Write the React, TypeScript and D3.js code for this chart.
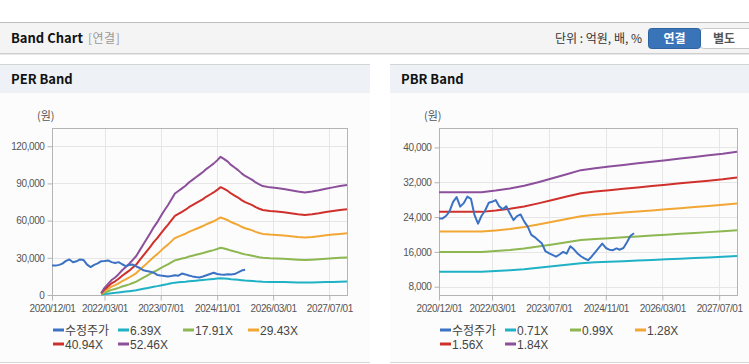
import React, { useEffect, useRef } from "react";
import * as d3 from "d3";

// x ticks shared by both panels
const xTickLabels = ["2020/12/01", "2022/03/01", "2023/07/01", "2024/11/01", "2026/03/01", "2027/07/01"];

// adjusted close (수정주가), monthly
const priceDates = [
  "2020-12", "2021-01", "2021-02", "2021-03", "2021-04", "2021-05", "2021-06", "2021-07", "2021-08", "2021-09",
  "2021-10", "2021-11", "2021-12", "2022-01", "2022-02", "2022-03", "2022-04", "2022-05", "2022-06", "2022-07",
  "2022-08", "2022-09", "2022-10", "2022-11", "2022-12", "2023-01", "2023-02", "2023-03", "2023-04", "2023-05",
  "2023-06", "2023-07", "2023-08", "2023-09", "2023-10", "2023-11", "2023-12", "2024-01", "2024-02", "2024-03",
  "2024-04", "2024-05", "2024-06", "2024-07", "2024-08", "2024-09", "2024-10", "2024-11", "2024-12", "2025-01",
  "2025-02", "2025-03", "2025-04", "2025-05", "2025-06", "2025-07",
];
const priceValues = [
  23700, 23700, 24300, 25300, 27500, 28600, 26400, 27200, 28700, 28200,
  24500, 22500, 24300, 25500, 27300, 27500, 27900, 26500, 25800, 26500,
  24800, 23300, 24200, 24600, 23000, 21800, 19900, 19400, 18700, 18000,
  16200, 15700, 15300, 14900, 15400, 16000, 15600, 17300, 16600, 15700,
  15000, 14500, 14100, 14900, 15900, 16900, 17900, 16900, 16500, 16400,
  16800, 16500, 16900, 18200, 19700, 20300,
];

// EPS path used by PER band
const epsDates = [
  "2022-02", "2022-03", "2022-04", "2022-05", "2022-06", "2022-07", "2022-08", "2022-09", "2022-10", "2022-11",
  "2022-12", "2023-01", "2023-02", "2023-03", "2023-04", "2023-05", "2023-06", "2023-07", "2023-08", "2023-09",
  "2023-10", "2023-11", "2023-12", "2024-01", "2024-02", "2024-03", "2024-04", "2024-05", "2024-06", "2024-07",
  "2024-08", "2024-09", "2024-10", "2024-11", "2024-12", "2025-01", "2025-02", "2025-03", "2025-04", "2025-05",
  "2025-06", "2025-07", "2025-08", "2025-09", "2025-10", "2025-11", "2025-12", "2026-02", "2026-04", "2026-06",
  "2026-08", "2026-10", "2026-12", "2027-02", "2027-04", "2027-06", "2027-08", "2027-10", "2027-12",
];
const epsValues = [
  30, 110, 170, 230, 270, 320, 380, 430, 480, 540,
  600, 690, 780, 860, 950, 1040, 1120, 1210, 1300, 1380,
  1470, 1560, 1600, 1640, 1680, 1730, 1770, 1810, 1850, 1890,
  1940, 1980, 2020, 2070, 2125, 2090, 2050, 2000, 1960, 1920,
  1870, 1830, 1800, 1770, 1730, 1700, 1675, 1655, 1645, 1630,
  1610, 1590, 1575, 1590, 1610, 1635, 1655, 1675, 1690,
];
const perMultiples = [6.39, 17.91, 29.43, 40.94, 52.46];

// BPS path used by PBR band
const bpsDates = [
  "2020-12", "2021-12", "2022-04", "2022-08", "2022-12", "2023-04", "2023-08", "2023-12", "2024-04", "2024-08",
  "2024-12", "2025-04", "2025-08", "2025-12", "2026-04", "2026-08", "2026-12", "2027-04", "2027-08", "2027-12",
];
const bpsValues = [
  16150, 16150, 16350, 16600, 16950, 17400, 17900, 18400, 18900, 19150,
  19350, 19550, 19750, 19950, 20150, 20350, 20550, 20750, 20950, 21200,
];
const pbrMultiples = [0.71, 0.99, 1.28, 1.56, 1.84];

const perTicks = [0, 30000, 60000, 90000, 120000];
const pbrTicks = [8000, 16000, 24000, 32000, 40000];

const priceColor = "#3b72c4";
const bandColors = ["#1fb1c6", "#8cb751", "#f2a735", "#d0302c", "#8c4f9b"];
const fontKo = "'Noto Sans CJK KR', 'Noto Sans', sans-serif";
const fontTick = "'Liberation Sans', Arial, 'Noto Sans CJK KR', sans-serif";

const parse = d3.timeParse("%Y-%m");
const parseTick = d3.timeParse("%Y/%m/%d");

type Pt = { date: Date; value: number };

function drawPanel(
  root: d3.Selection<SVGGElement, unknown, null, undefined>,
  opts: {
    x0: number; w: number; title: string; left: number; right: number; top: number; bottom: number;
    yDomain: [number, number]; yTicks: number[]; base: Pt[]; multiples: number[];
  }
) {
  const g = root.append("g");
  // panel background + header
  g.append("rect").attr("x", opts.x0).attr("y", 64).attr("width", opts.w).attr("height", 298).attr("fill", "#fcfcfc");
  g.append("rect").attr("x", opts.x0).attr("y", 64).attr("width", opts.w).attr("height", 29).attr("fill", "#eef2f7");
  g.append("line").attr("x1", opts.x0).attr("x2", opts.x0 + opts.w).attr("y1", 64.5).attr("y2", 64.5).attr("stroke", "#d4d4d4");
  g.append("line").attr("x1", opts.x0).attr("x2", opts.x0 + opts.w).attr("y1", 362.5).attr("y2", 362.5).attr("stroke", "#d8d8d8");
  g.append("text").attr("x", opts.x0 + 11).attr("y", 84).attr("font-family", fontKo).attr("font-weight", "bold")
    .attr("font-size", 13).attr("fill", "#111").text(opts.title);

  const x = d3.scaleTime().domain([new Date(2020, 11, 1), new Date(2027, 11, 1)]).range([opts.left, opts.right]);
  const y = d3.scaleLinear().domain(opts.yDomain).range([opts.bottom, opts.top]);

  // grid
  const tickDates = xTickLabels.map(t => parseTick(t) as Date);
  g.append("g").selectAll("line.v").data(tickDates.slice(1)).enter().append("line")
    .attr("x1", d => Math.round(x(d)) + 0.5).attr("x2", d => Math.round(x(d)) + 0.5)
    .attr("y1", opts.top).attr("y2", opts.bottom).attr("stroke", "#e6e6e6");
  g.append("g").selectAll("line.h").data(opts.yTicks).enter().append("line")
    .attr("x1", opts.left).attr("x2", opts.right)
    .attr("y1", d => Math.round(y(d)) + 0.5).attr("y2", d => Math.round(y(d)) + 0.5).attr("stroke", "#e6e6e6");

  // frame
  g.append("rect").attr("x", opts.left + 0.5).attr("y", opts.top + 0.5)
    .attr("width", opts.right - opts.left).attr("height", opts.bottom - opts.top)
    .attr("fill", "none").attr("stroke", "#b4b4b4");

  // axes
  const yAxis = g.append("g").attr("transform", `translate(${opts.left + 0.5},0)`)
    .call(d3.axisLeft(y).tickValues(opts.yTicks).tickSize(5).tickPadding(3).tickFormat(d3.format(",")));
  yAxis.select(".domain").remove();
  yAxis.selectAll("line").attr("stroke", "#b4b4b4");
  yAxis.selectAll("text").attr("font-family", fontTick).attr("font-size", 10).attr("letter-spacing", -0.4).attr("fill", "#555");

  const xAxis = g.append("g").attr("transform", `translate(0,${opts.bottom + 0.5})`)
    .call(d3.axisBottom(x).tickValues(tickDates).tickSize(5).tickPadding(4).tickFormat(d3.timeFormat("%Y/%m/%d") as any));
  xAxis.select(".domain").remove();
  xAxis.selectAll("line").attr("stroke", "#b4b4b4");
  xAxis.selectAll("text").attr("font-family", fontTick).attr("font-size", 10).attr("letter-spacing", -0.4).attr("fill", "#555");

  g.append("text").attr("x", opts.left - 15).attr("y", opts.top - 8).attr("font-family", fontKo)
    .attr("font-size", 11).attr("fill", "#555").text("(원)");

  const line = d3.line<Pt>().x(d => x(d.date)).y(d => y(d.value));

  opts.multiples.forEach((m, i) => {
    const pts = opts.base.map(d => ({ date: d.date, value: d.value * m }));
    g.append("path").datum(pts).attr("d", line).attr("fill", "none")
      .attr("stroke", bandColors[i]).attr("stroke-width", 2).attr("stroke-linejoin", "round");
  });

  const price: Pt[] = priceDates.map((d, i) => ({ date: parse(d) as Date, value: priceValues[i] }));
  g.append("path").datum(price).attr("d", line).attr("fill", "none")
    .attr("stroke", priceColor).attr("stroke-width", 2).attr("stroke-linejoin", "round");

  // legend
  const names = ["수정주가", ...opts.multiples.map(m => `${m.toFixed(2)}X`)];
  const colors = [priceColor, ...bandColors];
  const lg = g.append("g").attr("transform", `translate(${opts.left + 1},0)`);
  names.forEach((n, i) => {
    const col = i % 4;
    const row = Math.floor(i / 4);
    const lx = col * 65;
    const ly = 330 + row * 14;
    lg.append("line").attr("x1", lx).attr("x2", lx + 11).attr("y1", ly).attr("y2", ly)
      .attr("stroke", colors[i]).attr("stroke-width", 3);
    lg.append("text").attr("x", lx + 12).attr("y", ly + 4.5).attr("font-family", fontTick)
      .attr("font-size", 12).attr("fill", "#444").text(n);
  });
}

export default function App() {
  const ref = useRef<SVGSVGElement>(null);

  useEffect(() => {
    const svg = d3.select(ref.current);
    svg.selectAll("*").remove();
    const root = svg.append("g") as d3.Selection<SVGGElement, unknown, null, undefined>;

    // top header bar
    root.append("rect").attr("x", 0).attr("y", 22).attr("width", 749).attr("height", 31).attr("fill", "#f4f4f4");
    root.append("line").attr("x1", 0).attr("x2", 749).attr("y1", 22.5).attr("y2", 22.5).attr("stroke", "#bdbdbd");
    root.append("line").attr("x1", 0).attr("x2", 749).attr("y1", 53.5).attr("y2", 53.5).attr("stroke", "#cfcfcf");
    root.append("line").attr("x1", 0).attr("x2", 749).attr("y1", 54.5).attr("y2", 54.5).attr("stroke", "#e8e8e8");
    root.append("text").attr("x", 11).attr("y", 43).attr("font-family", fontKo).attr("font-weight", "bold")
      .attr("font-size", 13).attr("fill", "#111").text("Band Chart");
    root.append("text").attr("x", 88).attr("y", 43).attr("font-family", fontKo)
      .attr("font-size", 12).attr("fill", "#999").attr("letter-spacing", 0.5).text("[연결]");
    root.append("text").attr("x", 642).attr("y", 43).attr("text-anchor", "end").attr("font-family", fontKo)
      .attr("font-size", 12).attr("fill", "#333").text("단위 : 억원, 배, %");
    root.append("rect").attr("x", 700.5).attr("y", 28.5).attr("width", 52).attr("height", 20).attr("rx", 3)
      .attr("fill", "#fff").attr("stroke", "#c8c8c8");
    root.append("rect").attr("x", 648.5).attr("y", 28.5).attr("width", 52).attr("height", 20).attr("rx", 3)
      .attr("fill", "#3a74b8").attr("stroke", "#2e62a0");
    root.append("text").attr("x", 674.5).attr("y", 43).attr("text-anchor", "middle").attr("font-family", fontKo)
      .attr("font-weight", "bold").attr("font-size", 12).attr("fill", "#fff").text("연결");
    root.append("text").attr("x", 724).attr("y", 43).attr("text-anchor", "middle").attr("font-family", fontKo)
      .attr("font-weight", "bold").attr("font-size", 12).attr("fill", "#555").text("별도");

    const eps: Pt[] = epsDates.map((d, i) => ({ date: parse(d) as Date, value: epsValues[i] }));
    const bps: Pt[] = bpsDates.map((d, i) => ({ date: parse(d) as Date, value: bpsValues[i] }));

    drawPanel(root, {
      x0: 0, w: 370, title: "PER Band", left: 52, right: 347, top: 128, bottom: 295,
      yDomain: [0, 134700], yTicks: perTicks, base: eps, multiples: perMultiples,
    });
    drawPanel(root, {
      x0: 390, w: 359, title: "PBR Band", left: 439, right: 737, top: 128, bottom: 295,
      yDomain: [6100, 44460], yTicks: pbrTicks, base: bps, multiples: pbrMultiples,
    });
  }, []);

  return (
    <svg ref={ref} width={749} height={364} style={{ position: "absolute", left: 0, top: 0, background: "#fff" }} />
  );
}
